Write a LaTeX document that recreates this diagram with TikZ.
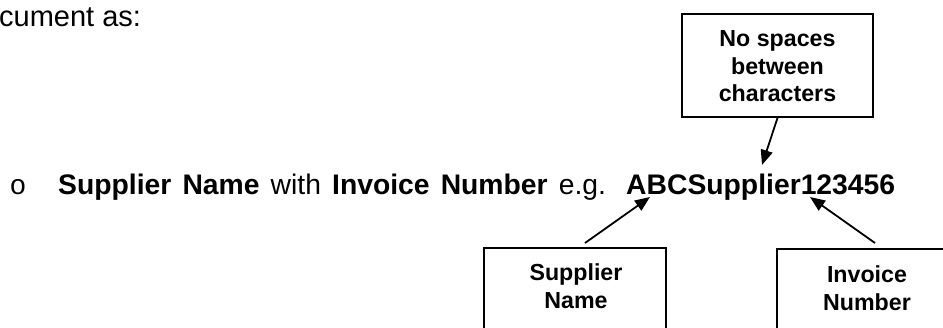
\documentclass[tikz,border=0pt]{standalone}
\usepackage{fontspec}
\setmainfont{Liberation Sans}
\newfontfamily\bulletfont{Liberation Mono}
\usetikzlibrary{arrows.meta}
\begin{document}
\begin{tikzpicture}[x=1pt,y=1pt,
  labelbox/.style={draw=black, line width=1.8pt, inner sep=0pt},
  boxtext/.style={font=\fontsize{23.2}{27.8}\selectfont\bfseries, align=center,
                  inner sep=0pt, anchor=north},
  pointer/.style={draw=black, line width=1.8pt,
                  -{Triangle[length=15pt,width=12pt]}},
  body/.style={font=\fontsize{28.3}{32}\selectfont, inner sep=0pt, anchor=base west}
]
\useasboundingbox (0,0) rectangle (943,327);
\clip (0,0) rectangle (943,327);

% running text
\node[body, font=\fontsize{29}{32}\selectfont] (intro) at (-1,300.3) {cument as:};
\node[inner sep=0pt, anchor=base, font=\bulletfont\fontsize{28}{32}\selectfont]
  (bullet) at (18,132) {o};
\node[body] (line) at (58,132)
  {\makebox[837pt][s]{\textbf{Supplier Name} with \textbf{Invoice Number} e.g. \textbf{ABCSupplier123456}}};

% callout boxes
\node[labelbox, minimum width=191pt, minimum height=103pt] (gapbox) at (777.5,261.5) {};
\node[boxtext] (gaptext) at (777.5,296.8) {No spaces\\between\\characters};

\node[labelbox, minimum width=182pt, minimum height=110pt, anchor=north] (namebox) at (575,79.5) {};
\node[boxtext] (nametext) at (576,63.4) {Supplier\\Name};

\node[labelbox, minimum width=182pt, minimum height=110pt, anchor=north] (invbox) at (868,78.5) {};
\node[boxtext] (invtext) at (867,61.5) {Invoice\\Number};

% arrow targets inside the example string
\coordinate (gaptip) at (762,162);
\coordinate (nametip) at (650,130);
\coordinate (invtip) at (810,130);

\draw[pointer] (gapbox.south) -- (gaptip);
\draw[pointer] ([xshift=10pt,yshift=4.5pt]namebox.north) -- (nametip);
\draw[pointer] ([xshift=7pt,yshift=5.5pt]invbox.north) -- (invtip);
\end{tikzpicture}
\end{document}
